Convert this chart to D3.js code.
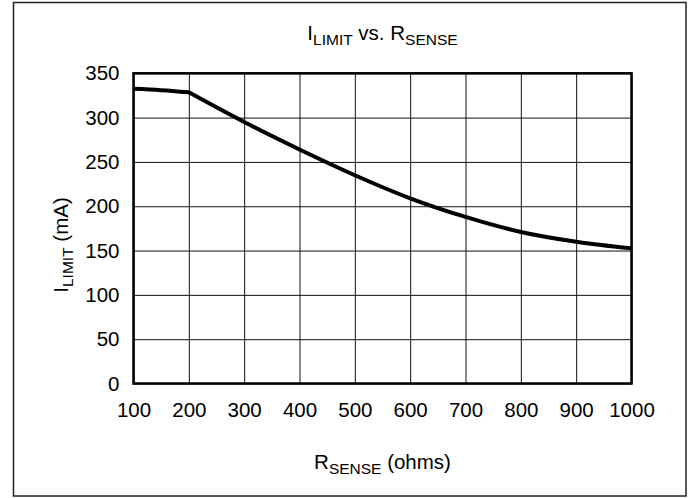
<!DOCTYPE html>
<html><head><meta charset="utf-8">
<script src="https://cdn.jsdelivr.net/npm/d3@7"></script>
<style>body{margin:0;background:#fff}svg{display:block}text{font-family:"Liberation Sans",Arial,sans-serif;fill:#000}</style>
</head><body>
<script>
const rSense = [100, 150, 200, 300, 400, 500, 600, 700, 800, 900, 1000];
const iLimit = [332.5, 331, 328.5, 295, 264, 235, 209, 188, 171, 160, 152.5];
const kneeR = 200;
const xTicks = [100, 200, 300, 400, 500, 600, 700, 800, 900, 1000];
const yTicks = [0, 50, 100, 150, 200, 250, 300, 350];

const W = 691, H = 498;
const FS = 20.5, SS = 15.5;
const svg = d3.select("body").append("svg").attr("width", W).attr("height", H);
const L = 133.5, R = 631.5, T = 73.3, B = 383.5;
const x = d3.scaleLinear().domain([100, 1000]).range([L, R]);
const y = d3.scaleLinear().domain([0, 350]).range([B, T]);

svg.append("rect").attr("x", 13.5).attr("y", 2.5).attr("width", 672.5).attr("height", 493.5)
  .attr("fill", "none").attr("stroke", "#222").attr("stroke-width", 1.5);

const gx = svg.append("g").attr("transform", `translate(0,${B})`)
  .call(d3.axisBottom(x).tickValues(xTicks).tickFormat(d3.format("d")).tickSize(-(B - T)).tickSizeOuter(0).tickPadding(19));
gx.select(".domain").remove();
gx.selectAll(".tick line").attr("stroke", "#111").attr("stroke-width", 1);
gx.selectAll(".tick text").attr("font-size", FS).attr("font-family", "Liberation Sans, Arial, sans-serif").attr("fill", "#000");

const gy = svg.append("g").attr("transform", `translate(${L},0)`)
  .call(d3.axisLeft(y).tickValues(yTicks).tickFormat(d3.format("d")).tickSize(-(R - L)).tickSizeOuter(0).tickPadding(14));
gy.select(".domain").remove();
gy.selectAll(".tick line").attr("stroke", "#111").attr("stroke-width", 1);
gy.selectAll(".tick text").attr("font-size", FS).attr("font-family", "Liberation Sans, Arial, sans-serif").attr("fill", "#000");

svg.append("rect").attr("x", L).attr("y", T).attr("width", R - L).attr("height", B - T)
  .attr("fill", "none").attr("stroke", "#000").attr("stroke-width", 2.5);

const data = rSense.map((r, i) => [r, iLimit[i]]);
const line = d3.line().x(d => x(d[0])).y(d => y(d[1])).curve(d3.curveMonotoneX);
const seg1 = data.filter(d => d[0] <= kneeR);
const seg2 = data.filter(d => d[0] >= kneeR);
svg.append("path").datum(data)
  .attr("d", line(seg1) + line(seg2).replace(/^M/, "L"))
  .attr("fill", "none").attr("stroke", "#000").attr("stroke-width", 4).attr("stroke-linejoin", "round");

function sub(sel, parts) {
  let prev = 0;
  parts.forEach(([txt, isSub]) => {
    const off = isSub ? 5 : 0;
    sel.append("tspan").text(txt).attr("font-size", isSub ? SS : FS).attr("dy", off - prev);
    prev = off;
  });
}
const t = svg.append("text").attr("x", (L + R) / 2).attr("y", 39.5).attr("text-anchor", "middle");
sub(t, [["I", 0], ["LIMIT", 1], [" vs. R", 0], ["SENSE", 1]]);

const xt = svg.append("text").attr("x", (L + R) / 2).attr("y", 469).attr("text-anchor", "middle");
sub(xt, [["R", 0], ["SENSE", 1], [" (ohms)", 0]]);

const yt = svg.append("text").attr("transform", `translate(68,245) rotate(-90)`).attr("text-anchor", "middle");
sub(yt, [["I", 0], ["LIMIT", 1], [" (mA)", 0]]);
</script>
</body></html>
